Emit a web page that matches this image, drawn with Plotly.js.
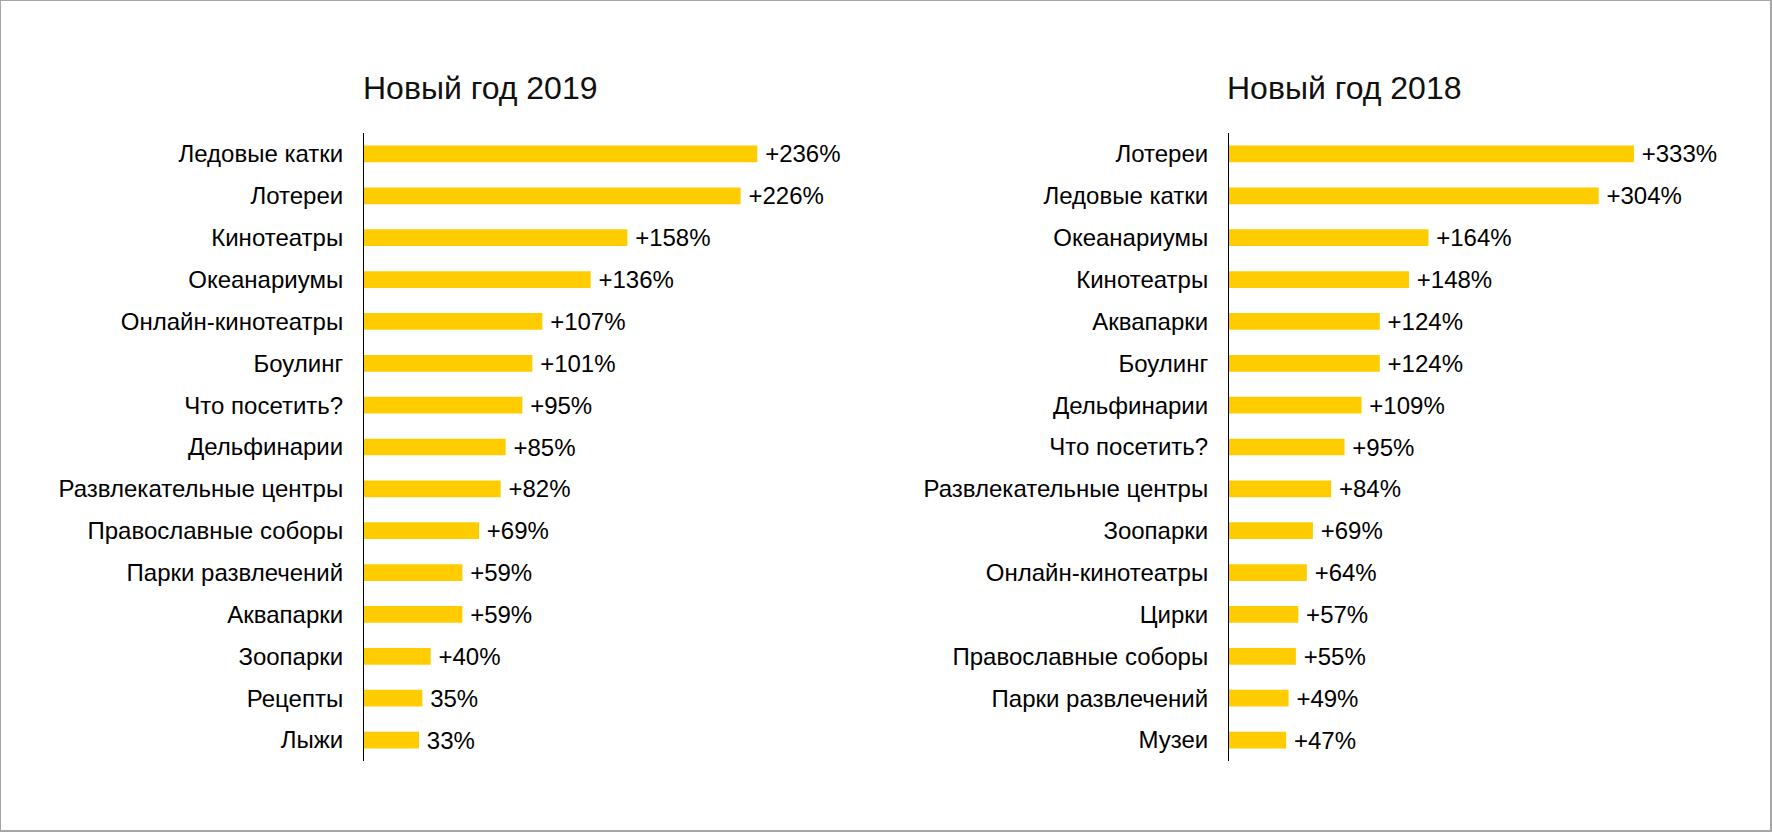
<!DOCTYPE html>
<html>
<head>
<meta charset="utf-8">
<script src="https://cdn.plot.ly/plotly-3.0.1.min.js"></script>
<style>
  html, body { margin: 0; padding: 0; background: #fff; }
  #wrap { position: relative; width: 1772px; height: 832px; }
  #chart { width: 1772px; height: 832px; }
  #frame { position: absolute; left: 0; top: 0; width: 1772px; height: 832px; box-sizing: border-box; border: 1px solid #a6a6a6; border-right-width: 2px; border-bottom-width: 2px; pointer-events: none; }
</style>
</head>
<body>
<div id="wrap"><div id="chart"></div><div id="frame"></div></div>
<script>
// ---- Data: Новый год 2019 ----
const categories2019 = ['Ледовые катки', 'Лотереи', 'Кинотеатры', 'Океанариумы', 'Онлайн-кинотеатры', 'Боулинг', 'Что посетить?', 'Дельфинарии', 'Развлекательные центры', 'Православные соборы', 'Парки развлечений', 'Аквапарки', 'Зоопарки', 'Рецепты', 'Лыжи'];
const values2019 = [236, 226, 158, 136, 107, 101, 95, 85, 82, 69, 59, 59, 40, 35, 33];
const labels2019 = ['+236%', '+226%', '+158%', '+136%', '+107%', '+101%', '+95%', '+85%', '+82%', '+69%', '+59%', '+59%', '+40%', '35%', '33%'];

// ---- Data: Новый год 2018 ----
const categories2018 = ['Лотереи', 'Ледовые катки', 'Океанариумы', 'Кинотеатры', 'Аквапарки', 'Боулинг', 'Дельфинарии', 'Что посетить?', 'Развлекательные центры', 'Зоопарки', 'Онлайн-кинотеатры', 'Цирки', 'Православные соборы', 'Парки развлечений', 'Музеи'];
const values2018 = [333, 304, 164, 148, 124, 124, 109, 95, 84, 69, 64, 57, 55, 49, 47];
const labels2018 = ['+333%', '+304%', '+164%', '+148%', '+124%', '+124%', '+109%', '+95%', '+84%', '+69%', '+64%', '+57%', '+55%', '+49%', '+47%'];

const titles = ['Новый год 2019', 'Новый год 2018'];

const FONT = '"Liberation Sans", Arial, sans-serif';
const BAR = '#FFCC00';
const W = 1772, H = 832;

function barTrace(cats, vals, labels, xa, ya) {
  return {
    type: 'bar', orientation: 'h',
    y: cats, x: vals, text: labels,
    texttemplate: '\u2009%{text}',
    textposition: 'outside', constraintext: 'none', cliponaxis: false,
    textfont: { family: FONT, size: 24, color: '#000' },
    marker: { color: BAR, line: { width: 0 } },
    xaxis: xa, yaxis: ya, hoverinfo: 'skip'
  };
}

const yDom = [1 - 761 / H, 1 - 133 / H];
const x1Dom = [364 / W, (364 + 500) / W];
const x2Dom = [1229 / W, (1229 + 486.4) / W];

function xAxis(dom, range) {
  return { domain: dom, range: range, showgrid: false, zeroline: false, showline: false, showticklabels: false, ticks: '', fixedrange: true };
}
function yAxis(anchor, cats) {
  return {
    domain: yDom, anchor: anchor, type: 'category',
    categoryorder: 'array', categoryarray: cats, autorange: 'reversed',
    showgrid: false, zeroline: false, showline: true, linecolor: '#000', linewidth: 1,
    ticks: '', ticklabelstandoff: 15,
    tickfont: { family: FONT, size: 24, color: '#000' }, fixedrange: true
  };
}

const data = [
  barTrace(categories2019, values2019, labels2019, 'x', 'y'),
  barTrace(categories2018, values2018, labels2018, 'x2', 'y2')
];

const layout = {
  width: W, height: H,
  margin: { l: 0, r: 0, t: 0, b: 0 },
  paper_bgcolor: '#fff', plot_bgcolor: '#fff',
  showlegend: false, bargap: 0.6,
  font: { family: FONT, color: '#000' },
  xaxis: xAxis(x1Dom, [0, 300]),
  yaxis: yAxis('x', categories2019),
  xaxis2: xAxis(x2Dom, [0, 400]),
  yaxis2: yAxis('x2', categories2018),
  annotations: [
    { text: titles[0], xref: 'paper', yref: 'paper', x: x1Dom[0] - 3 / W, y: 1 - 88 / H, xanchor: 'left', yanchor: 'middle', showarrow: false, font: { family: FONT, size: 32, color: '#111' } },
    { text: titles[1], xref: 'paper', yref: 'paper', x: x2Dom[0] - 4 / W, y: 1 - 88 / H, xanchor: 'left', yanchor: 'middle', showarrow: false, font: { family: FONT, size: 32, color: '#111' } }
  ]
};

Plotly.newPlot('chart', data, layout, { displayModeBar: false, staticPlot: true });
</script>
</body>
</html>
